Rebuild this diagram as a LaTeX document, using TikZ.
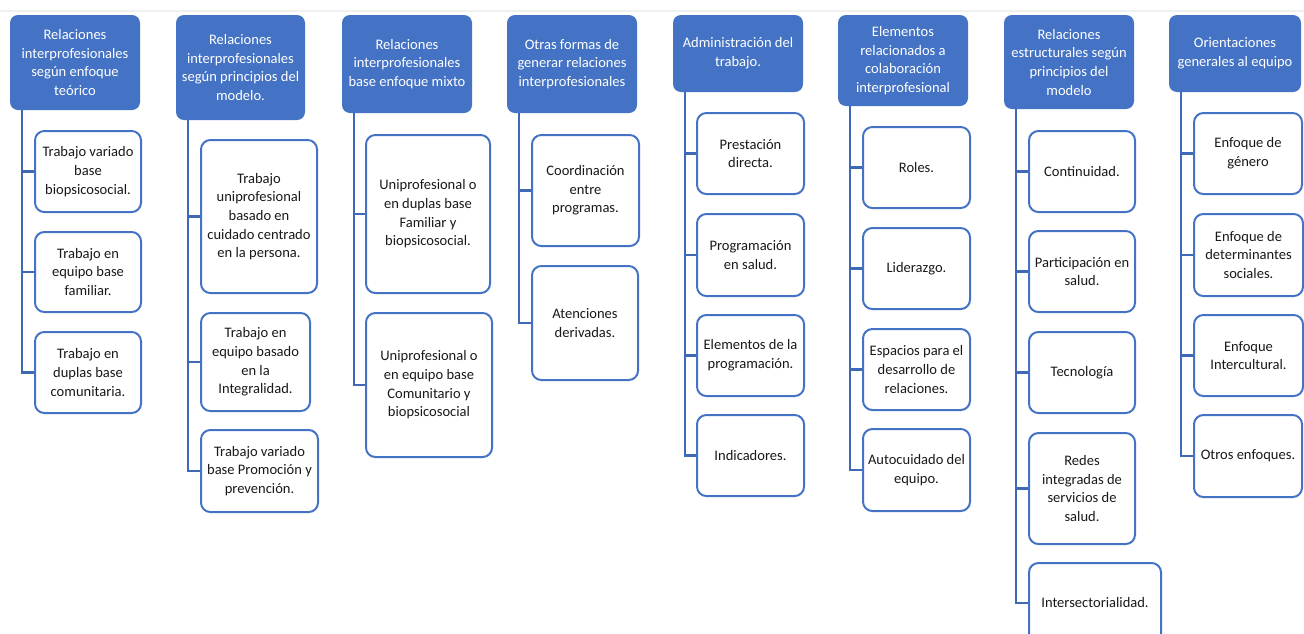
\documentclass[tikz,border=0pt]{standalone}
\usepackage{fontspec}
\setmainfont{Carlito}
\usetikzlibrary{calc}
\definecolor{obl}{HTML}{4472C4}
\definecolor{cbl}{HTML}{3F68B6}
\tikzset{
  hdr/.style={rectangle, rounded corners=6pt, fill=obl, draw=none, text=white, align=center, inner sep=0pt,
    font=\fontsize{10.9}{14}\selectfont},
  kid/.style={rectangle, rounded corners=7pt, fill=white, draw=obl, line width=1.5pt, text=black!90, align=center, inner sep=0pt,
    font=\fontsize{10.9}{14}\selectfont},
  conn/.style={draw=cbl, line width=1.8pt}
}
\newcommand\bx[7]{\node[#6, minimum width={(#4-#2)*0.75pt}, minimum height={(#5-#3)*0.75pt}] (#1) at ({(#2+#4)/2},{(#3+#5)/2}) {#7};}
\begin{document}
\begin{tikzpicture}[x=0.75pt,y=-0.75pt]
\clip (0,0) rectangle (1304,633);
\fill[white] (0,0) rectangle (1304,633);
\draw[black!6, line width=0.8pt] (0,11) -- (1304,11);
% column 1
\bx{h1}{10}{15}{140}{110}{hdr}{Relaciones\\interprofesionales\\según enfoque\\teórico}
\bx{c11}{35}{131}{141}{212}{kid}{Trabajo variado\\base\\biopsicosocial.}
\bx{c12}{35}{232}{141}{312}{kid}{Trabajo en\\equipo base\\familiar.}
\bx{c13}{35}{332}{141}{413}{kid}{Trabajo en\\duplas base\\comunitaria.}
% column 2
\bx{h2}{176}{15}{305}{120}{hdr}{Relaciones\\interprofesionales\\según principios del\\modelo.}
\bx{c21}{201}{140}{317}{293}{kid}{Trabajo\\uniprofesional\\basado en\\cuidado centrado\\en la persona.}
\bx{c22}{201}{313}{310}{411}{kid}{Trabajo en\\equipo basado\\en la\\Integralidad.}
\bx{c23}{201}{430}{318}{512}{kid}{Trabajo variado\\base Promoción y\\prevención.}
% column 3
\bx{h3}{342}{15}{472}{113}{hdr}{Relaciones\\interprofesionales\\base enfoque mixto}
\bx{c31}{366}{135}{490}{293}{kid}{Uniprofesional o\\en duplas base\\Familiar y\\biopsicosocial.}
\bx{c32}{366}{313}{492}{457}{kid}{Uniprofesional o\\en equipo base\\Comunitario y\\biopsicosocial}
% column 4
\bx{h4}{507}{15}{637}{113}{hdr}{Otras formas de\\generar relaciones\\interprofesionales}
\bx{c41}{532}{135}{639}{246}{kid}{Coordinación\\entre\\programas.}
\bx{c42}{532}{266}{638}{380}{kid}{Atenciones\\derivadas.}
% column 5
\bx{h5}{673}{15}{803}{92}{hdr}{Administración del\\trabajo.}
\bx{c51}{697}{113}{804}{194}{kid}{Prestación\\directa.}
\bx{c52}{697}{214}{804}{296}{kid}{Programación\\en salud.}
\bx{c53}{697}{315}{804}{396}{kid}{Elementos de la\\programación.}
\bx{c54}{697}{415}{804}{496}{kid}{Indicadores.}
% column 6
\bx{h6}{838}{15}{968}{106}{hdr}{Elementos\\relacionados a\\colaboración\\interprofesional}
\bx{c61}{863}{127}{970}{208}{kid}{Roles.}
\bx{c62}{863}{228}{970}{309}{kid}{Liderazgo.}
\bx{c63}{863}{329}{970}{410}{kid}{Espacios para el\\desarrollo de\\relaciones.}
\bx{c64}{863}{429}{970}{511}{kid}{Autocuidado del\\equipo.}
% column 7
\bx{h7}{1004}{15}{1134}{109}{hdr}{Relaciones\\estructurales según\\principios del\\modelo}
\bx{c71}{1029}{131}{1135}{212}{kid}{Continuidad.}
\bx{c72}{1029}{231}{1135}{312}{kid}{Participación en\\salud.}
\bx{c73}{1029}{332}{1135}{413}{kid}{Tecnología}
\bx{c74}{1029}{433}{1135}{544}{kid}{Redes\\integradas de\\servicios de\\salud.}
\bx{c75}{1029}{563}{1161}{643}{kid}{Intersectorialidad.}
% column 8
\bx{h8}{1169}{15}{1301}{92}{hdr}{Orientaciones\\generales al equipo}
\bx{c81}{1194}{113}{1302}{194}{kid}{Enfoque de\\género}
\bx{c82}{1194}{214}{1303}{296}{kid}{Enfoque de\\determinantes\\sociales.}
\bx{c83}{1194}{315}{1303}{396}{kid}{Enfoque\\Intercultural.}
\bx{c84}{1194}{415}{1302}{497}{kid}{Otros enfoques.}
% connectors
\foreach \h/\kids in {h1/{c11,c12,c13}, h2/{c21,c22,c23}, h3/{c31,c32}, h4/{c41,c42},
  h5/{c51,c52,c53,c54}, h6/{c61,c62,c63,c64}, h7/{c71,c72,c73,c74,c75}, h8/{c81,c82,c83,c84}}{
  \foreach \k in \kids {
    \draw[conn] ($(\h.south west)+(12,0)$) |- (\k.west);
  }
}
\end{tikzpicture}
\end{document}
